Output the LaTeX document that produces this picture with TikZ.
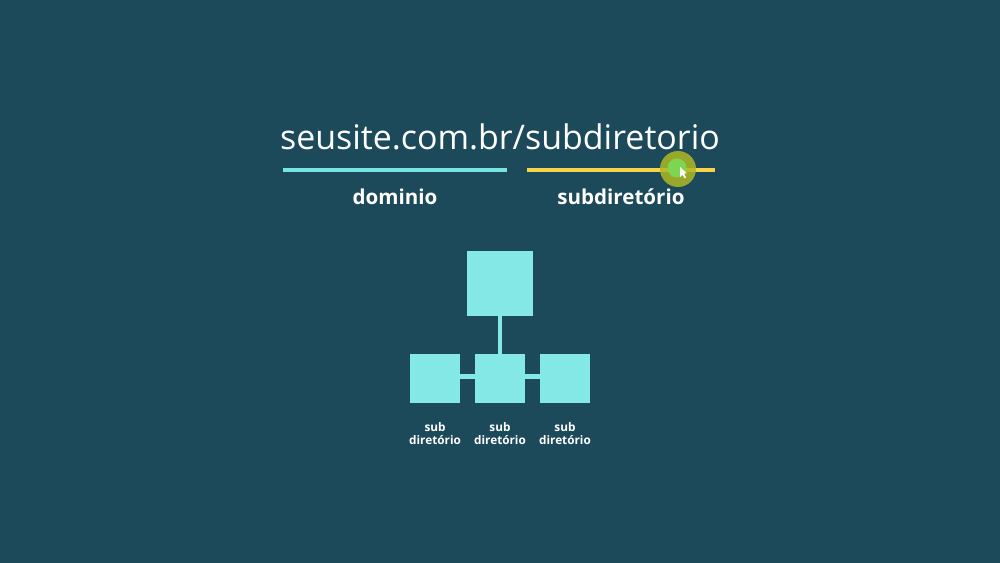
\documentclass[tikz,border=0pt]{standalone}
\usepackage{fontspec}
\setmainfont{Open Sans}
\usetikzlibrary{positioning}

\definecolor{bgteal}{RGB}{28,74,90}
\definecolor{boxcyan}{RGB}{131,232,230}
\definecolor{barcyan}{RGB}{120,228,228}
\definecolor{baryellow}{RGB}{245,213,71}
\definecolor{cursorolive}{RGB}{175,185,35}
\definecolor{cursorgreen}{RGB}{126,214,80}

\begin{document}
\begin{tikzpicture}[x=0.02cm,y=-0.02cm,
  box/.style={fill=boxcyan,minimum size=1cm,inner sep=0pt,outer sep=0pt},
  link/.style={draw=boxcyan,line width=2.3pt},
  bar/.style={line width=2.3pt},
  word/.style={text=white,font=\bfseries\fontsize{11.7}{14}\selectfont},
  sublabel/.style={text=white,font=\bfseries\fontsize{6.7}{7.4}\selectfont,align=center,inner sep=0pt}]
  \fill[bgteal] (0,0) rectangle (1000,563);

  \node[text=white,font=\fontsize{19.3}{23}\selectfont,anchor=base] (url) at (500,150) {seusite.com.br/subdiretorio};

  \coordinate (dleft) at (283,170);
  \coordinate (dright) at (507,170);
  \coordinate (sleft) at (527,170);
  \coordinate (sright) at (715,170);
  \draw[bar,barcyan] (dleft) -- (dright);
  \draw[bar,baryellow] (sleft) -- (sright);

  \node[word,anchor=base] (dominio) at (395,205) {dominio};
  \node[word,anchor=base] (subdir) at (621,205) {subdiretório};

  % cursor
  \node[circle,fill=cursorolive,fill opacity=0.85,minimum size=0.72cm,inner sep=0pt] (cursor) at (678,169) {};
  \node[circle,fill=cursorgreen,minimum size=0.38cm,inner sep=0pt] (cursorin) at (677,168) {};
  \fill[white] (680,167) -- (680,177) -- (682.5,174.5) -- (684.5,178.5) -- (686,177.5) -- (684,173.5) -- (687,173.5) -- cycle;

  % tree
  \node[box,minimum size=1.32cm] (root) at (500,283.5) {};
  \node[box] (mid) at (500,378.5) {};
  \node[box,left=0.3cm of mid] (left) {};
  \node[box,right=0.3cm of mid] (right) {};

  \draw[link] (root) -- (mid);
  \draw[link] ([yshift=0.04cm]left.east) -- ([yshift=0.04cm]mid.west);
  \draw[link] ([yshift=0.04cm]mid.east) -- ([yshift=0.04cm]right.west);

  \node[sublabel,below=0.38cm of left] (leftlabel) {sub\\diretório};
  \node[sublabel,below=0.38cm of mid] (midlabel) {sub\\diretório};
  \node[sublabel,below=0.38cm of right] (rightlabel) {sub\\diretório};
\end{tikzpicture}
\end{document}
